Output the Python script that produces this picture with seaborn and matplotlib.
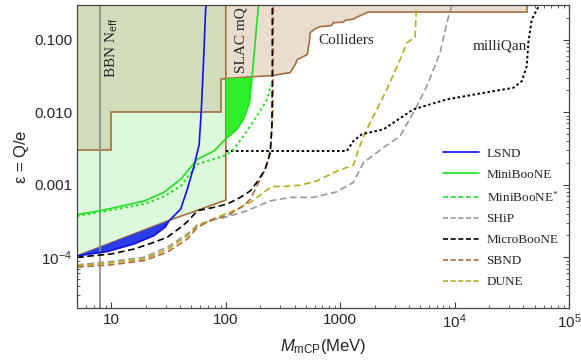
import numpy as np
import matplotlib
matplotlib.use("Agg")
import matplotlib.pyplot as plt
import seaborn as sns
from matplotlib.lines import Line2D
from matplotlib.ticker import LogLocator, NullFormatter

# ---------------- data ----------------
# existing constraints (lower edge of light-green region)
bound_x = [5, 8, 30.8, 100]
bound_y = [1.045e-4, 1.39e-4, 3.16e-4, 6.14e-4]
# BBN / older bound step edge
step_x = [5, 10, 10, 91, 91, 100]
step_y = [0.003, 0.003, 0.01, 0.01, 0.029, 0.029]
# colliders / SLAC mQ lower edge
coll_x = [100, 255, 366, 405, 421, 475, 515, 536, 547, 605, 669, 834, 869,
          1062, 1106, 1300, 1407, 1556, 1757, 43000, 43000]
coll_y = [0.0291, 0.032, 0.0352, 0.0454, 0.0531, 0.0584, 0.0622, 0.091, 0.125,
          0.1416, 0.151, 0.156, 0.171, 0.174, 0.184, 0.192, 0.205, 0.220, 0.240,
          0.240, 0.3]

lsnd_x = [5, 9.23, 15.8, 23.6, 29.6, 32.1, 40.3, 46.1, 52.8, 58.5, 61.1, 63.6, 66.6, 67.6]
lsnd_y = [1.045e-4, 1.2e-4, 1.53e-4, 1.99e-4, 2.62e-4, 3.21e-4, 4.62e-4, 8.7e-4,
          1.82e-3, 3.6e-3, 0.0109, 0.043, 0.258, 0.3]

mb_x = [5, 8, 19.2, 28.7, 40.3, 56.4, 78.9, 100, 109.4, 125.3, 143, 161.4, 169.4, 193]
mb_y = [3.88e-4, 4.38e-4, 5.95e-4, 7.84e-4, 1.19e-3, 2.25e-3, 2.92e-3, 4.3e-3,
        4.8e-3, 5.8e-3, 7.96e-3, 0.0135, 0.0298, 0.3]

mbs_x = [5, 8, 19.3, 28.8, 40.3, 56.4, 100, 117, 143, 187, 229, 250]
mbs_y = [3.7e-4, 4.2e-4, 5.42e-4, 6.87e-4, 9.56e-4, 1.92e-3, 2.55e-3, 3.08e-3,
         4.7e-3, 8.84e-3, 0.015, 0.0241]

ship_x = [5, 9.86, 19.3, 30.8, 46.1, 56.4, 78.9, 103, 153, 245, 366, 584, 935,
          1306, 1597, 2390, 3342, 4519, 5715, 7468, 8551, 9451]
ship_y = [7.87e-5, 8.73e-5, 1.0e-4, 1.38e-4, 2.1e-4, 2.79e-4, 3.3e-4, 3.62e-4,
          4.38e-4, 6.01e-4, 6.69e-4, 6.69e-4, 7.99e-4, 1.08e-3, 2.02e-3, 3.25e-3,
          4.7e-3, 0.0109, 0.0228, 0.0657, 0.169, 0.3]

micro_x = [5, 9.9, 15.8, 23.6, 30.8, 40.3, 46.1, 56.4, 78.9, 103, 134, 164, 187,
           221, 245, 253, 255, 255]
micro_y = [1.0e-4, 1.11e-4, 1.3e-4, 1.61e-4, 1.89e-4, 2.59e-4, 3.09e-4, 4.38e-4,
           4.88e-4, 5.42e-4, 6.7e-4, 8.25e-4, 1.08e-3, 1.64e-3, 2.78e-3, 6.44e-3,
           0.0282, 0.3]

sbnd_x = [5, 9.86, 19.3, 30.8, 46.1, 56.4, 78.9, 103, 143, 164, 187, 214, 236.5,
          248, 258, 260]
sbnd_y = [7.31e-5, 7.87e-5, 9.0e-5, 1.175e-4, 1.79e-4, 2.59e-4, 3.37e-4, 3.74e-4,
          5.13e-4, 6.34e-4, 9.66e-4, 1.47e-3, 2.25e-3, 3.81e-3, 0.0109, 0.3]

dune_x = [5, 9.86, 19.3, 30.8, 46.1, 56.4, 78.9, 117, 164, 214, 253, 320, 447,
          626, 874, 1306, 1445, 1653, 1954, 2558, 3342, 3824, 4519, 4611, 4611]
dune_y = [7.62e-5, 8.38e-5, 9.5e-5, 1.28e-4, 1.99e-4, 2.72e-4, 3.42e-4, 4.38e-4,
          5.71e-4, 7.84e-4, 9.47e-4, 9.47e-4, 9.87e-4, 1.13e-3, 1.47e-3, 1.88e-3,
          3.08e-3, 5.23e-3, 8.84e-3, 0.0206, 0.0531, 0.0901, 0.109, 0.233, 0.3]

mq_x = [100, 1144, 1306, 1547, 2390, 4342, 6109, 8551, 16700, 32630, 38630,
        42730, 44110, 47230, 52240, 55460]
mq_y = [2.92e-3, 2.92e-3, 4.01e-3, 4.96e-3, 5.8e-3, 0.0109, 0.0128, 0.015, 0.0181,
        0.0217, 0.0267, 0.043, 0.09, 0.188, 0.258, 0.3]

bbn_mass = 8.0

legend_labels = ["LSND", "MiniBooNE", r"MiniBooNE$^{*}$", "SHiP", "MicroBooNE", "SBND", "DUNE"]
xtick_vals = [10, 100, 1000, 1e4, 1e5]
xtick_labels = ["10", "100", "1000", r"10$^{4}$", r"10$^{5}$"]
ytick_vals = [1e-4, 1e-3, 1e-2, 1e-1]
ytick_labels = [r"10$^{-4}$", "0.001", "0.010", "0.100"]

# ---------------- style ----------------
sns.set_style("ticks")
plt.rcParams["font.family"] = ["Liberation Sans", "DejaVu Sans"]
plt.rcParams["mathtext.fontset"] = "custom"
plt.rcParams["mathtext.rm"] = "Liberation Sans"
plt.rcParams["mathtext.it"] = "Liberation Sans:italic"
plt.rcParams["mathtext.default"] = "regular"

BROWN = "#a2703f"
C_LSND = "#1010f0"
C_MB = "#22e022"
C_SHIP = "#999999"
C_MICRO = "#000000"
C_SBND = "#b06b35"
C_DUNE = "#b5ad1e"

fig = plt.figure(figsize=(5.81, 3.61), dpi=100)
ax = fig.add_axes([0.1325, 0.1468, 0.8468, 0.8393])
ax.set_xscale("log")
ax.set_yscale("log")
ax.set_xlim(5, 1e5)
ax.set_ylim(2e-5, 0.3)

# ---------------- filled regions ----------------
ax.fill(bound_x + [100, 5], bound_y + [0.3, 0.3], facecolor="#dcf9dc",
        edgecolor=BROWN, lw=1.2, zorder=1)
ax.fill([5] + step_x + [100], [0.3] + step_y + [0.3], facecolor="#d1dcbb",
        edgecolor=BROWN, lw=1.2, zorder=1.2)
ax.fill(coll_x + [100], coll_y + [0.3], facecolor="#e9ddd0",
        edgecolor=BROWN, lw=1.2, zorder=1.3)

# blue LSND excluded sliver
lx = np.array(lsnd_x); ly = np.array(lsnd_y)
sel = lx <= 32.1
bx = np.array(bound_x); byy = np.array(bound_y)
selb = bx < 30
ax.fill(np.concatenate([lx[sel], bx[selb][::-1]]),
        np.concatenate([ly[sel], byy[selb][::-1]]),
        facecolor="#2a3de6", edgecolor="none", zorder=2)

# green MiniBooNE region beyond 100 MeV
mx = np.array(mb_x); my = np.array(mb_y)
selm = (mx >= 100) & (mx <= 170)
ax.fill(np.concatenate([mx[selm], [100]]), np.concatenate([my[selm], [0.0291]]),
        facecolor="#2af02a", edgecolor="none", zorder=2)

# ---------------- lines ----------------
def line(x, y, color, ls="-", lw=1.2, z=4):
    sns.lineplot(x=x, y=y, ax=ax, color=color, linestyle=ls, lw=lw,
                 sort=False, estimator=None, legend=False, zorder=z)

ax.axvline(bbn_mass, color="#8a8a8a", lw=1.2, zorder=3)
line(ship_x, ship_y, C_SHIP, (0, (4, 2.2)))
line(dune_x, dune_y, C_DUNE, (0, (4, 2.2)))
line(sbnd_x, sbnd_y, C_SBND, (0, (4, 2.2)))
line(micro_x, micro_y, C_MICRO, (0, (4, 2.2)))
line(mq_x, mq_y, "black", (0, (1.3, 1.3)), lw=1.4)
line(mbs_x, mbs_y, C_MB, (0, (1.3, 1.5)), lw=1.4)
line(mb_x, mb_y, C_MB, "-")
line(lsnd_x, lsnd_y, C_LSND, "-")

# ---------------- texts ----------------
serif = ["Liberation Serif", "DejaVu Serif"]
ax.text(10.1, 0.0764, r"BBN N$_{\rm eff}$", rotation=90, ha="center", va="center",
        fontsize=11, family=serif, zorder=6)
ax.text(136, 0.1, "SLAC mQ", rotation=90, ha="center", va="center",
        fontsize=11, family=serif, zorder=6)
ax.text(1132, 0.098, "Colliders", ha="center", va="center", fontsize=11,
        family=serif, zorder=6)
ax.text(25100, 0.081, "milliQan", ha="center", va="center", fontsize=11,
        family=serif, zorder=6)

# ---------------- axes ----------------
ax.set_xticks(xtick_vals)
ax.set_xticklabels(xtick_labels)
ax.set_yticks(ytick_vals)
ax.set_yticklabels(ytick_labels)
ax.xaxis.set_minor_locator(LogLocator(base=10, subs=np.arange(2, 10), numticks=20))
ax.yaxis.set_minor_locator(LogLocator(base=10, subs=np.arange(2, 10), numticks=20))
ax.xaxis.set_minor_formatter(NullFormatter())
ax.yaxis.set_minor_formatter(NullFormatter())
ax.tick_params(which="both", direction="in", top=True, right=True,
               labelsize=11, color="#444444")
ax.tick_params(which="major", length=4.5, width=0.8)
ax.tick_params(which="minor", length=2.5, width=0.6)
for s in ax.spines.values():
    s.set_color("#444444")
    s.set_linewidth(0.9)
    s.set_zorder(10)

ax.set_xlabel(r"$\mathit{M}_{\rm mCP}$(MeV)", fontsize=12, labelpad=4)
ax.set_ylabel(r"$\epsilon$ = Q/e", fontsize=12, labelpad=2)

# ---------------- legend ----------------
dash = (0, (3, 1.6))
handles = [
    Line2D([], [], color=C_LSND, lw=1.2),
    Line2D([], [], color=C_MB, lw=1.2),
    Line2D([], [], color=C_MB, lw=1.2, linestyle=dash),
    Line2D([], [], color=C_SHIP, lw=1.2, linestyle=dash),
    Line2D([], [], color=C_MICRO, lw=1.2, linestyle=dash),
    Line2D([], [], color=C_SBND, lw=1.2, linestyle=dash),
    Line2D([], [], color=C_DUNE, lw=1.2, linestyle=dash),
]
leg = ax.legend(handles, legend_labels, loc="upper left",
                bbox_to_anchor=(0.744, 0.53), frameon=False,
                prop={"family": serif, "size": 9.5},
                handlelength=2.75, handletextpad=0.55, labelspacing=0.67,
                borderpad=0, borderaxespad=0)
leg.set_zorder(8)

fig.savefig("out.png", dpi=100)
